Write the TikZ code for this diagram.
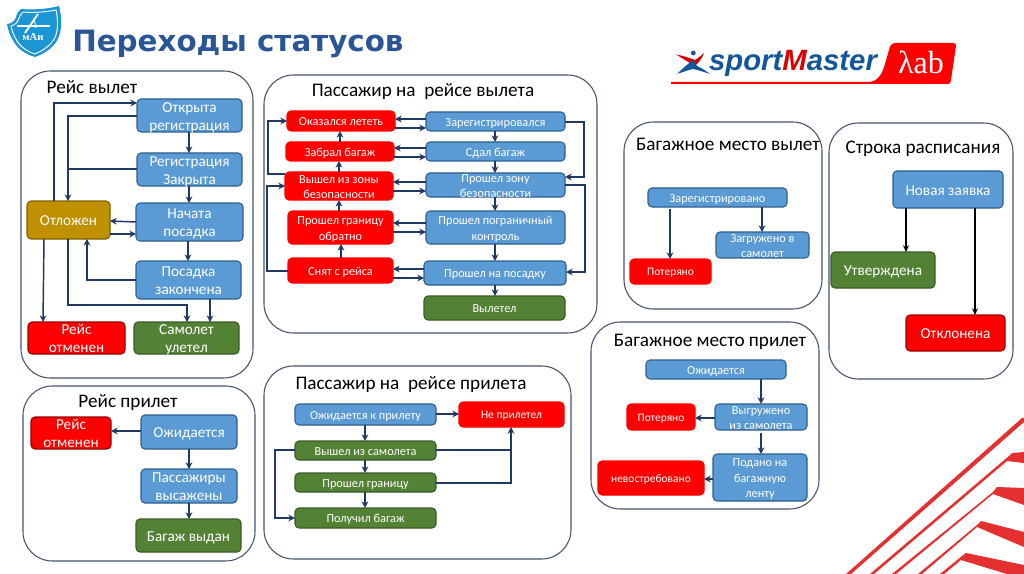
\documentclass[tikz,border=0pt]{standalone}
\usepackage{fontspec}
\setmainfont{Carlito}
\newfontfamily\hdfont{DejaVu Sans}
\newfontfamily\logofont{Liberation Sans}
\newfontfamily\maifont{Liberation Serif}
\usetikzlibrary{arrows.meta,calc}
\definecolor{bblue}{HTML}{5B9BD5}
\definecolor{bblueD}{HTML}{2E5F8E}
\definecolor{bred}{HTML}{FF0000}
\definecolor{bgreen}{HTML}{548235}
\definecolor{bgreenD}{HTML}{3A5A28}
\definecolor{bgold}{HTML}{BF9000}
\definecolor{bgoldD}{HTML}{7F6000}
\definecolor{navy}{HTML}{1F3864}
\definecolor{pline}{HTML}{44546A}
\definecolor{stripe}{HTML}{E53030}
\definecolor{hdblue}{HTML}{2A5597}
\definecolor{smblue}{HTML}{14569B}
\definecolor{maiblue}{HTML}{1C95D4}
\tikzset{
  x=0.75pt,y=-0.75pt,
  bxbase/.style={rounded corners=3pt,inner sep=0pt,outer sep=0pt,line width=0.8pt,text=white,anchor=center},
  fL/.style={font=\fontsize{11.4}{13.6}\selectfont},
  fM/.style={font=\fontsize{10.2}{12.6}\selectfont},
  fS/.style={font=\fontsize{9.2}{11.6}\selectfont},
  fXS/.style={font=\fontsize{8.6}{10.6}\selectfont},
  blu/.style={bxbase,draw=bblueD,fill=bblue},
  rd/.style={bxbase,draw=bred,fill=bred},
  rdd/.style={bxbase,draw=red!60!black,fill=bred},
  grn/.style={bxbase,draw=bgreenD,fill=bgreen},
  gld/.style={bxbase,draw=bgoldD,fill=bgold},
  panel/.style={rounded corners=22pt,draw=pline,line width=0.8pt,inner sep=0pt,outer sep=0pt,fill=white},
  ttl/.style={font=\fontsize{14.4}{16}\selectfont,text=black,inner sep=0pt},
  arr/.style={sharp corners,draw=navy,line width=1.1pt,-{Stealth[length=5pt,width=5pt]}},
  lin/.style={sharp corners,draw=navy,line width=1.1pt},
  arb/.style={sharp corners,draw=black,line width=0.9pt,-{Stealth[length=5pt,width=4.5pt]}},
}
\newcommand\bx[7]{\node[#2,minimum width={(#5-#3)*0.75pt},minimum height={(#6-#4)*0.75pt}] (#1) at ({(#3+#5)/2},{(#4+#6)/2}) {\raisebox{-0.78em}{\smash{\begin{tabular}[c]{@{}c@{}}#7\end{tabular}}}};}
\begin{document}
\begin{tikzpicture}
\useasboundingbox (0,0) rectangle (1024,574);
\fill[white] (0,0) rectangle (1024,574);
% decorative stripes
\fill[stripe] (846,574)--(1022,418)--(1024,418)--(1024,422)--(851,574)--cycle;
\fill[stripe] (870,574)--(1009,456)--(1012,453)--(1024,452)--(1024,463)--(1007,461)--(874,574)--cycle;
\fill[stripe] (892,574)--(993,492)--(997,487)--(1024,488)--(1024,505)--(993,494)--(896,574)--cycle;
\fill[stripe] (918,574)--(977,525)--(981,521)--(1024,532)--(1024,547)--(977,527)--(922,574)--cycle;
\fill[stripe] (940,574)--(962,556)--(966,553)--(1024,565)--(1024,574)--(1007,574)--(961,560)--(944,574)--cycle;
% MAI logo
\fill[maiblue] (7,24) .. controls (11,24) and (15,21) .. (16,17) .. controls (17,13) and (19,11) .. (21,9) .. controls (34,10) and (48,9) .. (59,6) .. controls (62,18) and (62,28) .. (59,36) .. controls (56,46) and (46,53) .. (35,57) .. controls (25,54) and (18,49) .. (14,42) .. controls (10,36) and (8,30) .. (7,24) -- cycle;
\draw[white,line width=0.7pt] (11,26) .. controls (15,25) and (18,22) .. (19,18) .. controls (20,16) and (21,14) .. (23,12) .. controls (34,13) and (46,12) .. (56,10) .. controls (58,19) and (58,28) .. (56,35) .. controls (53,44) and (44,50) .. (35,54) .. controls (26,51) and (20,46) .. (17,41) .. controls (14,36) and (12,31) .. (11,26) -- cycle;
\draw[white,line width=1pt] (17,26)--(50,26);
\draw[white,line width=1.4pt] (25,33)--(38,14);
\draw[white,line width=0.7pt] (34,18)--(36,28);
\node[text=white,inner sep=0pt,font=\maifont\bfseries\fontsize{8}{9}\selectfont] (mai) at (33,37) {мАи};
% heading
\node[text=hdblue,inner sep=0pt,anchor=west,font=\hdfont\bfseries\fontsize{22}{26}\selectfont] (head) at (72,44) {Переходы статусов};
% sportmaster logo
\fill[bred] (671,82)--(868,82) .. controls (878,82) and (882,74) .. (885,64) -- (889,50) .. controls (890,45) and (892,43) .. (896,43) -- (953,43) .. controls (955,43) and (956,44) .. (956,46) -- (951,80) .. controls (951,83) and (950,84) .. (948,84) -- (671,84) -- cycle;
\fill[smblue] (693.3,53) circle (2.4);
\fill[red!85!black] (676,54.5) .. controls (684,56) and (690,58) .. (695,60) .. controls (698,58) and (701,56) .. (704,53) .. controls (702,59) and (698,63) .. (695,66) .. controls (688,62) and (682,58) .. (676,54.5) -- cycle;
\fill[smblue] (677,74) .. controls (683,68) and (688,64) .. (693,60) -- (697,66) .. controls (702,68) and (706,71) .. (710,74) .. controls (704,72) and (698,70) .. (693,69) .. controls (688,70) and (683,72) .. (677,74) -- cycle;
\node[inner sep=0pt,text=smblue,font=\logofont\bfseries\itshape\fontsize{22}{24}\selectfont] (sm) at (793,63) {sport\textcolor{red!85!black}{M}aster};
\node[inner sep=0pt,text=white,font=\maifont\fontsize{24}{26}\selectfont] (lab) at (921,62) {λab};
% panels
\bx{p1}{panel}{21}{71}{253}{378}{}
\bx{p2}{panel}{264}{75}{597}{333}{}
\bx{p3}{panel}{23}{386}{255}{561}{}
\bx{p4}{panel}{264}{366}{571}{559}{}
\bx{p5}{panel}{624}{122}{822}{309}{}
\bx{p6}{panel}{829}{123}{1013}{379}{}
\bx{p7}{panel}{591}{322}{819}{509}{}
% titles
\node[ttl] (t1) at (92,87) {Рейс вылет};
\node[ttl] (t2) at (423,92) {Пассажир на\ \ рейсе вылета};
\node[ttl] (t3) at (128,403) {Рейс прилет};
\node[ttl] (t4) at (411,385) {Пассажир на\ \ рейсе прилета};
\node[ttl] (t5) at (728,144) {Багажное место вылет};
\node[ttl] (t6) at (923,149) {Строка расписания};
\node[ttl] (t7) at (710,342) {Багажное место прилет};
% panel 1
\bx{a1}{blu,fL}{137}{99}{242}{132}{Открыта\\регистрация}
\bx{a2}{blu,fL}{137}{153}{242}{186}{Регистрация\\Закрыта}
\bx{a3}{blu,fL}{136}{203}{243}{241}{Начата\\посадка}
\bx{a4}{blu,fL}{136}{261}{241}{299}{Посадка\\закончена}
\bx{a5}{gld,fL}{27}{201}{110}{239}{Отложен}
\bx{a6}{rdd,fL}{28}{322}{125}{354}{Рейс\\отменен}
\bx{a7}{grn,fL}{134}{322}{239}{354}{Самолет\\улетел}
\draw[arr] (a5.north -| 54,0) -- (54,103) -- (a1.west |- 0,103);
\draw[arr] (a1.west |- 0,116) -- (68,116) -- (a5.north -| 68,0);
\draw[lin] (a2.west |- 0,169) -- (68,169);
\draw[arr] (a1.south -| 189,0) -- (a2.north -| 189,0);
\draw[arr] (a2.south -| 189,0) -- (a3.north -| 189,0);
\draw[arr] (a3.south -| 188,0) -- (a4.north -| 188,0);
\draw[arr] (a3.west |- 0,222) -- (a5.east |- 0,221);
\draw[arr] (a5.east |- 0,234) -- (a3.west |- 0,234);
\draw[arr] (a4.west |- 0,280) -- (87,280) -- (a5.south -| 87,0);
\draw[arr] (a5.south -| 44,0) -- (a6.north -| 43,0);
\draw[arr] (a5.south -| 68,0) -- (68,305) -- (187,305) -- (a7.north -| 187,0);
\draw[arr] (a4.south -| 210,0) -- (a7.north -| 210,0);
% panel 2
\bx{r1}{rd,fS}{287}{111}{395}{131}{Оказался лететь}
\bx{r2}{rd,fS}{286}{142}{394}{161}{Забрал багаж}
\bx{r3}{rd,fS}{285}{172}{393}{200}{Вышел из зоны\\безопасности}
\bx{r4}{rd,fS}{288}{211}{393}{244}{Прошел границу\\обратно}
\bx{r5}{rd,fS}{288}{258}{393}{283}{Снят с рейса}
\bx{b1}{blu,fS}{426}{112}{565}{131}{Зарегистрировался}
\bx{b2}{blu,fS}{426}{142}{565}{161}{Сдал багаж}
\bx{b3}{blu,fS}{426}{173}{565}{197}{Прошел зону\\безопасности}
\bx{b4}{blu,fS}{426}{211}{565}{244}{Прошел пограничный\\контроль}
\bx{b5}{blu,fS}{424}{261}{566}{285}{Прошел на посадку}
\bx{b6}{grn,fS}{424}{296}{565}{320}{Вылетел}
\draw[arr] (b1.west |- 0,119) -- (r1.east |- 0,119);
\draw[arr] (r1.east |- 0,128) -- (b1.west |- 0,128);
\draw[arr] (b2.west |- 0,148) -- (r2.east |- 0,148);
\draw[arr] (r2.east |- 0,157) -- (b2.west |- 0,157);
\draw[arr] (b3.west |- 0,182) -- (r3.east |- 0,182);
\draw[arr] (r3.east |- 0,191) -- (b3.west |- 0,191);
\draw[arr] (b4.west |- 0,223) -- (r4.east |- 0,223);
\draw[arr] (r4.east |- 0,232) -- (b4.west |- 0,232);
\draw[arr] (b5.west |- 0,269) -- (r5.east |- 0,269);
\draw[arr] (r5.east |- 0,278) -- (b5.west |- 0,278);
\draw[arr] (b1.south -| 495,0) -- (b2.north -| 495,0);
\draw[arr] (b2.south -| 495,0) -- (b3.north -| 495,0);
\draw[arr] (b3.south -| 495,0) -- (b4.north -| 495,0);
\draw[arr] (b4.south -| 495,0) -- (b5.north -| 495,0);
\draw[arr] (b5.south -| 495,0) -- (b6.north -| 495,0);
\draw[arr] (r5.north -| 341,0) -- (r4.south -| 341,0);
\draw[arr] (r4.north -| 339,0) -- (r3.south -| 339,0);
\draw[arr] (r3.north -| 339,0) -- (r2.south -| 339,0);
\draw[arr] (r2.north -| 340,0) -- (r1.south -| 340,0);
\draw[arr] (r3.west |- 0,174) -- (268,174) -- (268,121) -- (r1.west |- 0,121);
\draw[arr] (r5.west |- 0,271) -- (267,271) -- (267,186) -- (r3.west |- 0,186);
\draw[arr] (b1.east |- 0,122) -- (584,122) -- (584,177) -- (b3.east |- 0,177);
\draw[arr] (b3.east |- 0,185) -- (585,185) -- (585,272) -- (b5.east |- 0,272);
% panel 3
\bx{c1}{rdd,fL}{31}{417}{111}{449}{Рейс\\отменен}
\bx{c2}{blu,fL}{141}{415}{237}{449}{Ожидается}
\bx{c3}{blu,fL}{141}{469}{237}{503}{Пассажиры\\высажены}
\bx{c4}{grn,fL}{136}{519}{241}{552}{Багаж выдан}
\draw[arr] (c2.west |- 0,431) -- (c1.east |- 0,431);
\draw[arr] (c2.south -| 189,0) -- (c3.north -| 189,0);
\draw[arr] (c3.south -| 189,0) -- (c4.north -| 189,0);
% panel 4
\bx{d1}{blu,fS}{295}{404}{436}{425}{Ожидается к прилету}
\bx{d2}{rd,fXS}{459}{402}{564}{427}{Не прилетел}
\bx{d3}{grn,fS}{295}{441}{436}{460}{Вышел из самолета}
\bx{d4}{grn,fS}{295}{473}{436}{492}{Прошел границу}
\bx{d5}{grn,fS}{295}{508}{436}{528}{Получил багаж}
\draw[arr] (d1.east |- 0,414) -- (d2.west |- 0,414);
\draw[arr] (d1.south -| 365,0) -- (d3.north -| 365,0);
\draw[arr] (d3.south -| 365,0) -- (d4.north -| 365,0);
\draw[arr] (d4.south -| 365,0) -- (d5.north -| 365,0);
\draw[lin] (d3.east |- 0,450) -- (511,450);
\draw[arr] (d4.east |- 0,483) -- (511,483) -- (d2.south -| 511,0);
\draw[arr] (d3.west |- 0,450) -- (275,450) -- (275,518) -- (d5.west |- 0,518);
% panel 5
\bx{e1}{blu,fS}{648}{188}{787}{207}{Зарегистрировано}
\bx{e2}{blu,fS}{716}{232}{809}{258}{Загружено в\\самолет}
\bx{e3}{rd,fXS}{630}{259}{711}{284}{Потеряно}
\draw[arr] (e1.south -| 762,0) -- (e2.north -| 762,0);
\draw[arr] (670,209) -- (e3.north -| 670,0);
% panel 6
\bx{f1}{blu,fL}{893}{171}{1003}{208}{Новая заявка}
\bx{f2}{grn,fL}{831}{252}{935}{288}{Утверждена}
\bx{f3}{rdd,fL}{906}{315}{1005}{351}{Отклонена}
\draw[arb] (f1.south -| 906,0) -- (f2.north -| 906,0);
\draw[arb] (f1.south -| 975,0) -- (f3.north -| 975,0);
% panel 7
\bx{g1}{blu,fS}{646}{360}{786}{379}{Ожидается}
\bx{g2}{blu,fS}{715}{404}{807}{430}{Выгружено\\из самолета}
\bx{g3}{rd,fXS}{627}{404}{695}{430}{Потеряно}
\bx{g4}{blu,fS}{713}{454}{807}{501}{Подано на\\багажную\\ленту}
\bx{g5}{rd,fXS}{598}{461}{704}{495}{невостребовано}
\draw[arr] (g1.south -| 761,0) -- (g2.north -| 761,0);
\draw[arr] (761,433) -- (g4.north -| 761,0);
\draw[arr] (g2.west |- 0,418) -- (g3.east |- 0,418);
\draw[arr] (g4.west |- 0,479) -- (g5.east |- 0,479);
\end{tikzpicture}
\end{document}
